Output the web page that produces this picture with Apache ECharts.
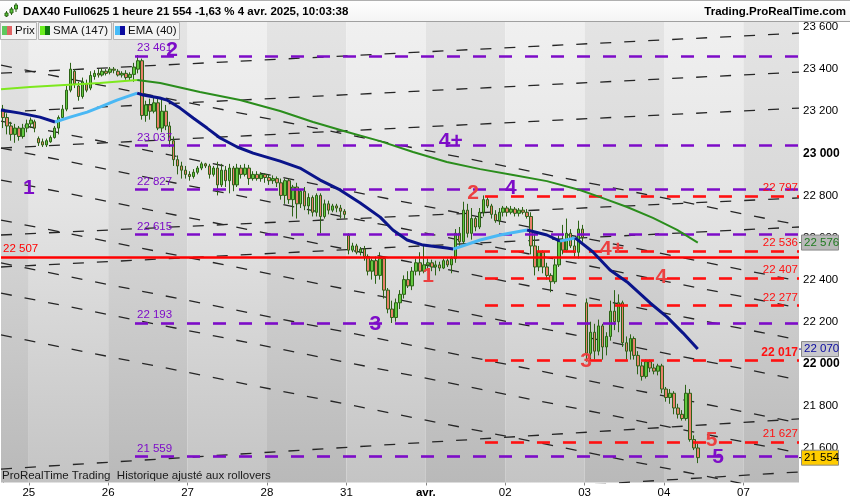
<!DOCTYPE html>
<html><head><meta charset="utf-8">
<script src="https://cdn.jsdelivr.net/npm/echarts@6/dist/echarts.min.js"></script>
<style>html,body{margin:0;padding:0;background:#fff}#c{width:850px;height:500px}</style>
</head><body><div id="c"></div>
<script>
// ---------- DATA ----------
const titleText = 'DAX40 Full0625 1 heure 21 554 -1,63 % 4 avr. 2025, 10:03:38';
const siteText = 'Trading.ProRealTime.com';
const footText = 'ProRealTime Trading  Historique ajusté aux rollovers';
const legendNames = ['Prix', 'SMA (147)', 'EMA (40)'];

const dayLabels = ['25', '26', '27', '28', '31', 'avr.', '02', '03', '04', '07'];
const dayStarts = [7, 27, 47, 67, 87, 107, 127, 147, 167, 187];
const slotCount = 201;

// hourly candles [open, close, low, high]
const candles = [
[23210,23170,23120,23230],[23170,23130,23090,23190],[23130,23090,23060,23150],[23090,23120,23050,23140],
[23120,23080,23060,23130],[23080,23120,23070,23140],[23120,23140,23100,23160],
[23140,23158,23120,23170],[23150,23120,23100,23160],[23070,23050,23035,23080],[23055,23040,23030,23070],
[23040,23060,23030,23070],[23055,23075,23050,23085],[23075,23120,23070,23130],[23120,23170,23090,23180],
[23170,23210,23160,23230],[23210,23300,23200,23320],[23300,23400,23290,23430],[23390,23330,23310,23400],
[23320,23270,23250,23340],[23270,23340,23260,23360],[23330,23300,23290,23350],[23310,23370,23300,23390],
[23365,23380,23350,23395],[23380,23372,23360,23400],[23372,23390,23365,23405],[23390,23380,23370,23400],
[23385,23400,23375,23410],[23400,23395,23380,23410],[23390,23372,23365,23400],[23372,23380,23360,23390],
[23380,23360,23350,23395],[23360,23375,23345,23385],[23375,23410,23340,23430],[23400,23440,23380,23467],
[23440,23180,23160,23450],[23180,23230,23150,23250],[23230,23200,23160,23260],[23200,23240,23190,23270],
[23240,23120,23110,23265],[23120,23200,23100,23260],[23200,23130,23110,23230],[23130,23060,23030,23150],
[23060,22970,22940,23080],[22970,22940,22900,22990],[22940,22920,22880,22960],[22920,22900,22880,22940],
[22900,22890,22870,22915],[22890,22910,22880,22925],[22910,22930,22900,22940],[22930,22950,22920,22960],
[22950,22940,22930,22955],[22940,22900,22880,22950],[22900,22930,22890,22940],[22930,22850,22800,22960],
[22850,22920,22840,22950],[22920,22870,22840,22940],[22870,22930,22810,22950],[22930,22850,22820,22940],
[22850,22930,22840,22950],[22930,22900,22880,22945],[22900,22930,22890,22950],[22930,22880,22850,22945],
[22880,22900,22870,22915],[22900,22880,22870,22915],[22880,22900,22865,22910],[22900,22885,22860,22905],
[22885,22870,22850,22900],[22870,22880,22855,22895],[22880,22860,22840,22890],[22860,22800,22780,22880],
[22800,22870,22760,22880],[22870,22780,22760,22880],[22780,22840,22700,22850],[22840,22760,22690,22860],
[22760,22820,22740,22830],[22820,22750,22730,22840],[22750,22790,22710,22810],[22790,22720,22700,22800],
[22720,22800,22700,22810],[22800,22700,22620,22810],[22700,22760,22690,22780],[22760,22730,22710,22775],
[22730,22750,22720,22760],[22750,22740,22720,22760],[22740,22725,22690,22755],[22725,22710,22690,22735],
[22610,22540,22520,22620],[22540,22560,22530,22575],[22560,22530,22520,22570],[22530,22545,22515,22555],
[22545,22510,22490,22560],[22510,22440,22420,22520],[22440,22490,22400,22500],[22490,22420,22380,22510],
[22420,22500,22400,22530],[22500,22350,22310,22510],[22350,22260,22240,22360],[22260,22220,22194,22300],
[22220,22290,22200,22310],[22290,22330,22260,22350],[22330,22400,22310,22420],[22400,22370,22360,22440],
[22370,22440,22350,22460],[22440,22480,22420,22500],[22480,22440,22420,22530],[22440,22470,22430,22560],
[22470,22480,22450,22500],[22480,22460,22440,22495],[22460,22470,22420,22490],[22470,22455,22440,22485],
[22455,22490,22450,22500],[22490,22470,22460,22500],[22470,22500,22430,22510],[22500,22620,22480,22640],
[22620,22580,22550,22650],[22580,22730,22570,22770],[22730,22620,22600,22760],[22620,22690,22590,22740],
[22690,22650,22630,22700],[22650,22720,22640,22740],[22720,22780,22700,22800],[22780,22750,22740,22795],
[22750,22710,22690,22760],[22710,22680,22670,22730],[22680,22720,22660,22740],[22720,22740,22700,22750],
[22740,22720,22700,22750],[22720,22735,22710,22750],[22735,22715,22700,22745],[22715,22730,22700,22740],
[22730,22720,22710,22745],[22720,22700,22690,22735],[22700,22560,22520,22720],[22560,22460,22420,22620],
[22460,22530,22440,22560],[22530,22460,22430,22540],[22460,22420,22400,22480],[22420,22390,22340,22430],
[22390,22470,22380,22500],[22470,22590,22460,22610],[22590,22540,22520,22660],[22540,22620,22530,22690],
[22620,22560,22550,22640],[22560,22530,22510,22600],[22530,22640,22500,22680],[22640,22600,22580,22660],
[22290,22050,22010,22310],[22050,22150,22020,22200],[22150,22060,22020,22190],[22060,22180,22040,22210],
[22180,22080,22020,22190],[22080,22130,22040,22150],[22130,22250,22110,22300],[22250,22200,22160,22350],
[22200,22290,22150,22330],[22290,22100,22080,22300],[22100,22060,22020,22130],[22060,22120,22020,22140],
[22120,22040,22020,22130],[22040,21990,21950,22060],[21990,21940,21920,22010],[21940,22010,21930,22020],
[22010,21980,21960,22020],[21980,21965,21950,22000],[21965,21990,21945,22000],[21990,21880,21860,22000],
[21880,21840,21820,21890],[21840,21860,21810,21880],[21860,21790,21760,21870],[21790,21760,21740,21810],
[21760,21740,21730,21780],[21740,21860,21730,21900],[21860,21640,21630,21880],[21640,21600,21590,21660],
[21600,21554,21528,21620]
];

// SMA(147) and EMA(40): [slot, price]
const smaPoints = [[-0.5,23305],[6.8,23315],[14.4,23324],[24.4,23334],[33.8,23348],[39.6,23334],[49.6,23291],
[59.7,23253],[69.8,23201],[78.1,23149],[86.7,23101],[95.0,23058],[103.3,23006],[111.8,22959],[120.2,22925],
[128.5,22897],[137.0,22868],[145.3,22826],[150.4,22792],[157.2,22745],[163.7,22693],[169.8,22636],[175,22576]];
const emaPoints = [[-0.5,23206],[4.3,23191],[9.3,23172],[13.1,23149],[16.9,23172],[21.2,23196],[24.4,23220],
[28.7,23253],[33.8,23286],[35.3,23277],[39.5,23263],[41.3,23253],[44.6,23215],[47.9,23168],[51.4,23120],
[54.7,23073],[59.0,23030],[63.0,23001],[69.8,22963],[74.8,22930],[79.9,22873],[84.9,22826],[90.0,22764],
[95.0,22697],[98.2,22636],[101.8,22588],[105.8,22564],[111.8,22550],[113.4,22545],[120.2,22588],[125.2,22612],
[132.0,22636],[137.0,22612],[140.3,22583],[144.1,22598],[148.6,22531],[152.9,22446],[157.2,22389],[163,22289],
[167.3,22222],[171.3,22146],[175,22070]];

const lastPrice = 21554;
const smaLast = 22576;
const emaLast = 22070;

const purpleLevels = [23461, 23037, 22827, 22615, 22193, 21559];
const purpleStart = 33.25;
const redLevels = [22797, 22536, 22407, 22277, 22017, 21627];
const redStart = 121.4;
const pivotLevel = 22507;

// trend lines [slot0, price0, slot1, price1]
const descLines = [
[-0.5,23419,200.5,22659],[-0.5,23153,200.5,22393],[-0.5,23025,200.5,22265],[-0.5,22873,200.5,22113],
[-0.5,22683,200.5,21923],[-0.5,22479,200.5,21719],[-0.5,22336,200.5,21576],[-0.5,22137,200.5,21377]];
const ascLines = [
[-0.5,23381,200.5,23571],[-0.5,23196,200.5,23386],[-0.5,23025,200.5,23215],[-0.5,22612,200.5,22788],
[-0.5,22460,200.5,22650],[-0.5,21500,200.5,21738],[125,21400,200.5,21486]];

// wave labels [slot, price, text]
const wavePurple = [[6.5,22835,'1'],[42.6,23491,'2'],[93.8,22190,'3'],[112.8,23058,'4+'],[127.9,22835,'4'],[180.1,21557,'5']];
const waveRed = [[107.1,22415,'1'],[118.4,22810,'2'],[146.9,22010,'3'],[153.4,22545,'4+'],[165.8,22412,'4'],[178.5,21636,'5']];

const yTicks = [21600, 21800, 22000, 22200, 22400, 22600, 22800, 23000, 23200, 23400, 23600];
const yMinorTicks = [21500,21600,21700,21800,21900,22000,22100,22200,22300,22400,22500,22600,22700,22800,22900,23000,23100,23200,23300,23400,23500,23600];

// ---------- CHART ----------
const PURPLE = '#7d0cc8', RED = '#ff1111', FONT = 'Liberation Sans, Arial, sans-serif';
const fmt = v => String(v).replace(/\B(?=(\d{3})+(?!\d))/g, ' ');
const chart = echarts.init(document.getElementById('c'), null, {width: 850, height: 500});

const bandEdges = [-0.5].concat(dayStarts.map(d => d - 0.5)).concat([slotCount - 0.5]);
const lightGrad = () => new echarts.graphic.LinearGradient(0, 0, 0, 1, [{offset: 0, color: '#f0f0f0'}, {offset: 0.4, color: '#e4e4e4'}, {offset: 1, color: '#c4c4c4'}]);
const darkGrad = () => new echarts.graphic.LinearGradient(0, 0, 0, 1, [{offset: 0, color: '#e4e4e4'}, {offset: 0.4, color: '#d8d8d8'}, {offset: 1, color: '#b9b9b9'}]);
const bands = [];
for (let k = 0; k < bandEdges.length - 1; k++) {
  bands.push([{xAxis: bandEdges[k], itemStyle: {color: k % 2 === 0 ? darkGrad() : lightGrad()}}, {xAxis: bandEdges[k + 1]}]);
}

function splitByDirection(points) {
  const segs = [];
  let cur = [points[0]], dir = null;
  for (let i = 1; i < points.length; i++) {
    const d = points[i][1] >= points[i - 1][1] ? 1 : -1;
    if (dir === null || d === dir) { cur.push(points[i]); dir = d; }
    else { segs.push({dir, pts: cur}); cur = [points[i - 1], points[i]]; dir = d; }
  }
  segs.push({dir, pts: cur});
  return segs;
}

const series = [];
series.push({type: 'line', xAxisIndex: 1, data: [], z: 0, silent: true, markArea: {silent: true, data: bands}});
descLines.concat(ascLines).forEach(l => {
  series.push({type: 'line', xAxisIndex: 1, data: [[l[0], l[1]], [l[2], l[3]]], showSymbol: false, silent: true, z: 1,
    lineStyle: {color: '#262626', width: 1.3, type: [11, 13]}});
});
series.push({type: 'candlestick', xAxisIndex: 0, data: candles, barWidth: 3, z: 3,
  itemStyle: {color: '#62c940', color0: '#e8806a', borderColor: '#2c6216', borderColor0: '#2c6216', borderWidth: 1}});
// horizontal levels
series.push({type: 'line', xAxisIndex: 1, data: [], z: 4, silent: true,
  markLine: {silent: true, symbol: ['none', 'none'], animation: false,
    data: purpleLevels.map(v => [{name: fmt(v), coord: [purpleStart, v]}, {coord: [slotCount - 0.5, v]}]),
    lineStyle: {color: PURPLE, width: 2.6, type: [13, 13]},
    label: {show: true, position: 'insideStartTop', formatter: '{b}', color: PURPLE, fontSize: 11.5, fontFamily: FONT, distance: [2, 2]}}});
series.push({type: 'line', xAxisIndex: 1, data: [], z: 4, silent: true,
  markLine: {silent: true, symbol: ['none', 'none'], animation: false,
    data: redLevels.map(v => [{name: fmt(v), coord: [redStart, v], label: v === 22017 ? {fontWeight: 'bold', fontSize: 12} : {}}, {coord: [slotCount - 0.5, v]}]),
    lineStyle: {color: RED, width: 2.6, type: [13, 13]},
    label: {show: true, position: 'insideEndTop', formatter: '{b}', color: RED, fontSize: 11.5, fontFamily: FONT, distance: [1, 2]}}});
series.push({type: 'line', xAxisIndex: 1, data: [], z: 4, silent: true,
  markLine: {silent: true, symbol: ['none', 'none'], animation: false,
    data: [[{name: fmt(pivotLevel), coord: [-0.5, pivotLevel]}, {coord: [slotCount - 0.5, pivotLevel]}]],
    lineStyle: {color: '#ff0000', width: 2.6, type: 'solid'},
    label: {show: true, position: 'insideStartTop', formatter: '{b}', color: '#ff0000', fontSize: 11.5, fontFamily: FONT, distance: [2, 2]}}});
// moving averages
splitByDirection(smaPoints).forEach(s => series.push({type: 'line', xAxisIndex: 1, data: s.pts, showSymbol: false, z: 5, silent: true,
  lineStyle: {color: s.dir > 0 ? '#7ee81e' : '#2a8d1c', width: 2}}));
splitByDirection(emaPoints).forEach(s => series.push({type: 'line', xAxisIndex: 1, data: s.pts, showSymbol: false, z: 5, silent: true,
  lineStyle: {color: s.dir > 0 ? '#4ab8f4' : '#0a148a', width: 3}}));
// wave labels
[[wavePurple, PURPLE], [waveRed, '#ec4040']].forEach(([arr, col]) => {
  series.push({type: 'scatter', xAxisIndex: 1, z: 6, zlevel: 0, silent: true, symbolSize: 0, itemStyle: {color: col, opacity: 1},
    data: arr.map(w => ({value: [w[0], w[1]], name: w[2]})),
    labelLayout: {hideOverlap: false},
    label: {show: true, position: 'inside', formatter: '{b}', color: col, opacity: 1, textBorderWidth: 0, fontSize: 21, fontWeight: 'bold', fontFamily: FONT}});
});

chart.setOption({
  animation: false,
  backgroundColor: '#ffffff',
  grid: {left: 1, right: 51, top: 22, bottom: 17.5},
  xAxis: [
    {type: 'category', data: Array.from({length: slotCount}, (_, i) => i), boundaryGap: true, show: false},
    {type: 'value', min: -0.5, max: slotCount - 0.5, position: 'bottom', splitLine: {show: false},
      axisLine: {show: false},
      axisTick: {show: true, customValues: dayStarts.map(d => d - 0.5), length: 3, lineStyle: {color: '#888'}},
      axisLabel: {customValues: dayStarts.map(d => d - 0.5), margin: 4, fontSize: 11.5, color: '#000', fontFamily: FONT,
        formatter: v => { const i = dayStarts.indexOf(Math.round(v + 0.5)); const t = i >= 0 ? dayLabels[i] : ''; return t === 'avr.' ? '{b|' + t + '}' : t; },
        rich: {b: {fontWeight: 'bold', fontSize: 11.5, fontFamily: FONT, color: '#000'}}}}
  ],
  yAxis: {type: 'value', position: 'right', min: 21436, max: 23624, splitLine: {show: false},
    axisLine: {show: true, lineStyle: {color: '#a8a8a8'}},
    axisTick: {show: true, customValues: yMinorTicks, length: 3, lineStyle: {color: '#777'}},
    axisLabel: {customValues: yTicks, margin: 4, fontSize: 11.5, color: '#000', fontFamily: FONT,
      formatter: v => (v % 1000 === 0 ? '{b|' + fmt(v) + '}' : fmt(v)),
      rich: {b: {fontWeight: 'bold', fontSize: 12, fontFamily: FONT, color: '#000'}}}},
  series
});

// ---------- DECORATION ----------
const g = [];
g.push({type: 'rect', shape: {x: 0, y: 0, width: 850, height: 21}, style: {fill: new echarts.graphic.LinearGradient(0, 0, 0, 1, [{offset: 0, color: '#ffffff'}, {offset: 1, color: '#f4f4f4'}])}, z: 50});
g.push({type: 'line', shape: {x1: 0, y1: 0.5, x2: 850, y2: 0.5}, style: {stroke: '#b0b0b0', lineWidth: 1}, z: 51});
g.push({type: 'line', shape: {x1: 0, y1: 21.5, x2: 850, y2: 21.5}, style: {stroke: '#a0a0a0', lineWidth: 1}, z: 51});
// candle icon
[[6.5, 11, 17, 13, 16, '#58c83a'], [11.5, 7, 15, 9, 13, '#58c83a'], [16, 3, 12, 5, 9, '#58c83a']].forEach(c => {
  g.push({type: 'line', shape: {x1: c[0], y1: c[1], x2: c[0], y2: c[2]}, style: {stroke: '#2c6216', lineWidth: 1}, z: 52});
  g.push({type: 'rect', shape: {x: c[0] - 1.5, y: c[3], width: 3, height: c[4] - c[3]}, style: {fill: c[5], stroke: '#2c6216', lineWidth: 1}, z: 53});
});
g.push({type: 'text', x: 23, y: 12, style: {text: titleText, font: 'bold 11.5px ' + FONT, fill: '#000', textVerticalAlign: 'middle'}, z: 52});
g.push({type: 'text', x: 846, y: 12, style: {text: siteText, font: 'bold 11.5px ' + FONT, fill: '#000', textAlign: 'right', textVerticalAlign: 'middle'}, z: 52});
// legend tabs
const tabs = [[0, 37, '#5ec85e', '#e06464'], [38, 112, '#6cf020', '#0f7a0f'], [113, 180, '#48bcf8', '#0a0aa0']];
tabs.forEach((t, i) => {
  g.push({type: 'rect', shape: {x: t[0] + 0.5, y: 22.5, width: t[1] - t[0] - 1, height: 17}, style: {fill: '#f4f4f4', stroke: '#b4b4b4', lineWidth: 1}, z: 52});
  g.push({type: 'rect', shape: {x: t[0] + 2, y: 26, width: 5, height: 9}, style: {fill: t[2]}, z: 53});
  g.push({type: 'rect', shape: {x: t[0] + 7, y: 26, width: 5, height: 9}, style: {fill: t[3]}, z: 53});
  g.push({type: 'text', x: t[0] + 15, y: 31, style: {text: legendNames[i], font: '11.5px ' + FONT, fill: '#111', textVerticalAlign: 'middle'}, z: 53});
});
g.push({type: 'text', x: 2, y: 476, style: {text: footText, font: '11.5px ' + FONT, fill: '#1a1a1a', textVerticalAlign: 'middle'}, z: 52});
// value boxes on the price scale
[[smaLast, '#b9b9b9', '#1f7a1f', '#1f7a1f'], [emaLast, '#c8c8cc', '#0a0aa0', '#0a0aa0'], [lastPrice, '#ffcc00', '#000', '#000']].forEach(b => {
  const y = chart.convertToPixel({yAxisIndex: 0}, b[0]);
  g.push({type: 'line', shape: {x1: 799, y1: y, x2: 802, y2: y}, style: {stroke: b[3], lineWidth: 1}, z: 60});
  g.push({type: 'rect', shape: {x: 801.5, y: y - 7.5, width: 37, height: 15}, style: {fill: b[1], stroke: '#8a8a8a', lineWidth: 1}, z: 60});
  g.push({type: 'text', x: 804, y: y, style: {text: fmt(b[0]), font: '11.5px ' + FONT, fill: b[2], textVerticalAlign: 'middle'}, z: 61});
});
chart.setOption({graphic: g});
</script></body></html>
